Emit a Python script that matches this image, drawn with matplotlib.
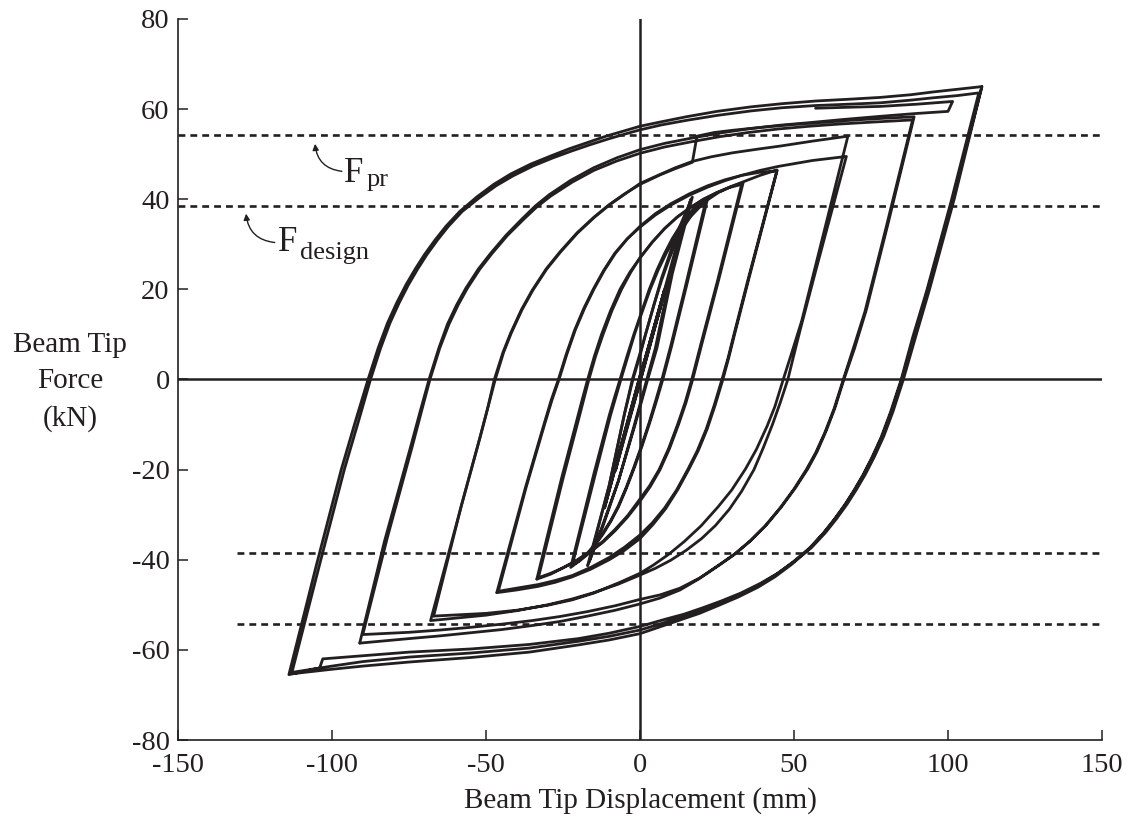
import matplotlib
matplotlib.use("Agg")
import matplotlib.pyplot as plt

plt.rcParams['font.family'] = ['Liberation Serif', 'DejaVu Serif']
plt.rcParams['axes.unicode_minus'] = False

INK = '#231f20'

# ---------------- data ----------------
x_ticks = [-150, -100, -50, 0, 50, 100, 150]
y_ticks = [-80, -60, -40, -20, 0, 20, 40, 60, 80]
f_pr = 54.2
f_design = 38.4

# level 1 (+/-8 mm)
disp_L1 = [0, 4, 8, 4, 0, -4, -8, -4, 0, 4, 8, 4, 0, -4, -8]
force_L1 = [0, 10, 20, 10.3, 0.5, -9.6, -20.2, -10.3, -0.5, 9.7, 20, 10.3, 0.5, -9.7, -20.2]

# level 2 (+/-11.5 mm)
disp_L2 = [-8, 0, 6, 11.5, 6, 0, -6, -11.5, -6, 0, 6, 11.5, 6, 0, -6, -11.5]
force_L2 = [-20.2, -0.5, 14.5, 28, 14.6, 0.8, -14.2, -28.3, -14.6, -0.6, 14.4, 27.8, 14.5, 0.8, -14.3, -28.5]

# level 3 (+/-16.5 mm)
disp_L3 = [-11.5, -5, 0, 6, 12, 16.5,
           10, 5, 2.2, -2, -7, -12, -16.5,
           -10, -5, -2.5, 2, 7, 12, 17,
           10.5, 5.5, 2.5, -1.8, -7, -12.5, -17]
force_L3 = [-28.5, -12, 0.5, 15, 30, 40,
            23.5, 7, 0, -10.5, -22.5, -32.5, -40.5,
            -23.5, -7.5, 0, 10.5, 22.5, 32.5, 40.5,
            23.5, 7, 0, -10.5, -22.5, -33, -41.3]

# level 4 (+/-22 mm)
disp_L4 = [-17, -10, -5, -2.3, 0, 2, 4.5, 7, 9.5, 12, 14.5, 17, 19.3, 21.5,
           14.5, 10, 7.1, 5, 3, 0.5, -2, -4.5, -7, -9.5, -12, -14.5, -17, -19.8, -22.5,
           -15, -10, -8.2, -6.5, -4.3, -2, 0.5, 3, 5.5, 8, 10.5, 13, 15.3, 17.5, 19.8, 22,
           15, 10.3, 7.4, 5.3, 3.2, 0.7, -1.8, -4.4, -7, -9.5, -12, -14.5, -17, -19.5, -22]
force_L4 = [-41.3, -23.5, -7.5, 0, 5.3, 10.5, 16.5, 22, 26.8, 31, 34.2, 36.8, 38.6, 40,
            20, 7.5, 0, -4.9, -9.5, -14.7, -19.5, -24, -28, -31.3, -34, -36.4, -38.5, -40.3, -41.7,
            -21, -8, -3.8, 0, 5, 10, 15, 20, 24.3, 28, 31.3, 34, 36.2, 38, 39.4, 40.3,
            20.5, 7.5, 0, -4.9, -9.5, -14.7, -19.5, -24.1, -28.3, -31.5, -34.3, -36.7, -38.8, -40.2, -41.2]

# level 5 (+/-33 mm)
disp_L5 = [-22, -14.5, -9.6, -6.2, -4, -1.8, 0.7, 3.3, 5.9, 8.5, 11.2, 14, 16.5, 19, 22, 25.5, 29.5, 33.5,
           25.5, 20.5, 18.8, 17.1, 14.9, 12.5, 9.6, 6.5, 3.3, 0, -4, -8, -12, -16, -20.5, -25, -29, -33,
           -25, -20, -18.3, -16.6, -14.4, -12, -9.1, -6, -3, 0, 4, 8, 12, 16, 20.5, 25, 29, 33,
           25.2, 20.2, 18.5, 16.8, 14.6, 12.2, 9.3, 6.2, 3.1, 0, -4, -8, -12, -16, -20.5, -25, -29, -33.5]
force_L5 = [-41.2, -21, -8, 0, 5, 10, 15, 20, 24.3, 28, 31.2, 34, 36.2, 38, 39.9, 41.5, 42.8, 43.7,
            22, 9, 4.5, 0, -5.2, -10, -15.3, -20, -23.8, -27, -30.5, -33.5, -36.1, -38.2, -40.2, -41.8, -43, -44,
            -22, -9, -4.5, 0, 5.2, 10, 15.3, 20, 23.8, 27, 30.5, 33.5, 36, 38, 40, 41.5, 42.6, 43.3,
            22, 9, 4.5, 0, -5.2, -10, -15.3, -20, -23.6, -26.5, -30.2, -33.2, -35.9, -38, -40.1, -41.8, -43.2, -44.3]

# level 6 (+/-45 mm)
disp_L6 = [-33.5, -25.5, -20.5, -18.7, -17, -14.8, -12.5, -9.6, -6.5, -3.3, 0, 4, 8, 12, 16, 20.5, 25, 29.5, 34, 39, 44.5,
           35, 30.5, 28.6, 26.6, 24.1, 21.5, 18.6, 15.5, 11.9, 8, 4, 0, -5, -10, -16, -22, -27.5, -33, -40, -46,
           -37, -31, -28.6, -26.3, -23.7, -21, -18, -15, -11.6, -8, -4, 0, 5, 10, 16, 22, 27.5, 33, 39, 44.5,
           35.2, 30.7, 28.8, 26.9, 24.4, 21.8, 18.9, 15.8, 12.2, 8.3, 4.2, 0, -5, -10, -16, -22, -27.5, -33, -40, -46.5]
force_L6 = [-44.3, -22, -9, -4.3, 0, 5.2, 10, 15.2, 20, 23.8, 27, 30.5, 33.5, 36, 38, 39.9, 41.5, 42.8, 44, 45.3, 46.5,
            22, 10, 4.8, 0, -5.7, -11, -15.8, -20, -24.5, -28.5, -31.8, -34.5, -37.2, -39.5, -41.7, -43.5, -44.6, -45.5, -46.3, -47,
            -24, -10, -4.6, 0, 5.7, 11, 15.8, 20, 24.2, 28, 31.3, 34, 36.8, 39, 41.2, 43, 44.3, 45.3, 46, 46.3,
            22, 10, 4.8, 0, -5.7, -11, -15.8, -20, -24.5, -28.7, -32.2, -35.3, -37.9, -40, -42.1, -43.8, -45, -45.9, -46.7, -47.3]

# level 7 (+/-67 mm)
disp_L7 = [-46.5, -37.2, -31.2, -28.8, -26.5, -24, -21.2, -18.3, -15.2, -11.8, -8.2, -4.2, 0, 5, 10, 16, 22, 27.5, 33, 39, 45, 56, 67,
           57, 52, 49.8, 48, 45.5, 43, 40, 37, 33, 29, 24.5, 20, 15, 10, 5, 0, -7, -15, -22, -30, -40, -50, -68,
           -58, -52, -49.5, -47, -44.3, -41.8, -38.3, -34.8, -30.3, -25.8, -20.3, -14.8, -9.8, -4.8, 0, 6.5, 11.5, 17, 23, 30, 38, 45.5, 56, 67.5,
           58, 52.5, 49.3, 46.5, 43.8, 41.3, 37.8, 34.3, 29.8, 25.3, 19.8, 14.3, 9.3, 4.3, 0, -6.5, -15, -22, -30, -40, -50, -67]
force_L7 = [-47.3, -24, -10, -4.5, 0, 5.5, 11, 15.7, 20, 24.2, 28, 31.2, 33.8, 36.5, 38.7, 40.9, 42.7, 44.1, 45.3, 46.4, 47.3, 48.6, 49.5,
            24, 11, 5, 0, -5.2, -10, -15.2, -20, -24.8, -28.8, -32.4, -35.3, -37.9, -40.1, -41.9, -43.4, -45.4, -47.3, -48.7, -50, -51.3, -52.3, -53.5,
            -28, -13, -6.5, 0, 6, 10.3, 15.5, 19.8, 24.5, 28.3, 32.5, 36, 38.8, 41.2, 43.5, 45.5, 47, 48.4, 49.4, 50.3, 51.1, 51.8, 52.9, 54,
            28, 13, 6, 0, -6, -10.3, -15.5, -19.8, -24.5, -28.3, -32.5, -36, -38.8, -41.2, -43, -45, -47.4, -48.9, -50.1, -51.2, -51.9, -52.5]

# level 8 (+/-89 mm); first loading shows a small step near 17 mm
disp_L8 = [-67, -58, -52, -49.5, -47.3, -44.5, -42, -38.5, -35, -30.5, -26, -20.5, -15, -10, -5, 0, 6.5, 11.5, 17,
           18.5, 24, 30, 40, 50, 60, 70, 80, 89,
           80.5, 73.5, 69.7, 66.2, 63.3, 60.5, 57.5, 54.5, 50.5, 46, 41, 36, 31, 26, 19.5, 13, 6.5, 0, -8, -17, -26, -35, -45, -55, -65, -75, -90,
           -82, -74, -71, -68.2, -65, -62, -59, -56, -52, -48, -43, -38, -33.5, -29, -22, -15, -7.5, 0, 8, 17, 26, 35, 45, 55, 65, 75, 88.5,
           80, 73, 69.3, 66, 63, 60, 57, 54, 50, 45.5, 40.5, 35.5, 30.5, 25.5, 19, 13, 6.5, 0, -8, -17, -26, -35, -45, -55, -65, -75, -91]
force_L8 = [-52.5, -28, -13, -6.5, 0, 6, 10.3, 15.5, 19.8, 24.5, 28.3, 32.5, 36, 38.8, 41.2, 43.3, 45.4, 46.8, 48.2,
            54, 54.8, 55.3, 56, 56.6, 57.1, 57.6, 58, 58.3,
            34.5, 15.5, 7, 0, -6.3, -11.3, -16, -19.8, -24, -28.2, -32.3, -35.7, -38.6, -41, -44, -46.3, -47.8, -48.8, -50.2, -51.5, -52.6, -53.5, -54.3, -55, -55.6, -56.1, -56.6,
            -35, -15, -7.2, 0, 7, 12.3, 16.6, 20.3, 24.5, 28, 32, 35.4, 38.3, 40.7, 43.8, 46.4, 48.5, 50.2, 51.6, 52.8, 53.9, 54.8, 55.6, 56.2, 56.7, 57.1, 57.6,
            34, 15, 7, 0, -6.5, -11.8, -16.3, -20, -24.3, -28.5, -32.6, -36, -38.9, -41.3, -44.3, -46.7, -48.5, -49.8, -51.2, -52.5, -53.7, -54.6, -55.5, -56.2, -56.9, -57.5, -58.5]

# level 9, first loading (+/-111 mm), with the step near 100 mm
disp_L9a = [-91, -83, -74.5, -71.5, -68.5, -65.3, -62.5, -59.5, -56.5, -52.5, -48.5, -43.5, -38.5, -34, -29.5, -22.5,
            -15, -7.5, 0, 8, 17, 26, 35, 45, 55, 66, 78, 89, 100,
            101.5, 90, 78, 67, 57]
force_L9a = [-58.5, -36, -15, -7.4, 0, 7, 12.3, 16.6, 20.3, 24.5, 28, 32, 35.5, 38.5, 41, 44.2,
             47, 49.2, 51, 52.4, 53.6, 54.7, 55.6, 56.4, 57, 57.7, 58.4, 59, 59.5,
             61.7, 61.1, 60.6, 60.4, 60.2]

# level 9, remaining cycles
disp_L9b = [111, 102, 94, 89.5, 85.5, 82.2, 79.2, 76.2, 73.2, 70.2, 67.2, 63.7, 60.2, 55.7, 50.2, 44.7, 39.2, 32.7,
            26.2, 20.2, 14.2, 8.2, 0, -10, -20, -36, -55, -75, -90, -103, -104, -114,
            -105, -97, -92.5, -88.3, -85, -82, -79, -76, -73, -70, -66.5, -63, -58.5, -53, -47.5, -42, -35.5, -29,
            -23, -17, -11, -5, 0, 7, 15, 25, 36, 46, 57, 68, 78, 88, 95, 103, 111,
            101.5, 93.5, 89, 85, 81.7, 78.7, 75.7, 72.7, 69.7, 66.7, 63.2, 59.7, 55.2, 49.7, 44.2, 38.7, 32.2, 25.7,
            19.7, 13.7, 7.7, 0, -10, -20, -36, -55, -75, -90, -100, -113,
            -104, -96, -91.5, -87.5, -84.2, -81.2, -78.2, -75.2, -72.2, -69.2, -65.7, -62.2, -57.7, -52.2, -46.7, -41.2,
            -34.7, -28.2, -22.2, -16.2, -10.2, -4.2, 0, 7, 15, 25, 36, 46, 57, 68, 78, 88, 95, 103, 110,
            101, 93, 88.5, 84.8, 81.3, 78.3, 75.3, 72.3, 69.3, 66.3, 62.8, 59.3, 54.8, 49.3, 43.8, 38.3, 31.8, 25.3,
            19.3, 13.3, 7.3, 0, -10, -20, -36, -55, -75, -90, -100, -113]
force_L9b = [65, 40, 20, 9.5, 0, -7, -12.5, -17, -21, -24.5, -27.7, -31, -34, -37.3, -40.3, -43, -45.2, -47.4,
             -49.2, -50.7, -52.1, -53.2, -54.8, -56.3, -57.5, -58.8, -59.8, -60.5, -61.3, -62, -64, -65.5,
             -41, -20, -9.5, 0, 7, 12.5, 17, 21, 24.5, 27.7, 31, 34, 37.3, 40.5, 43.3, 45.6, 47.8, 49.6,
             51.2, 52.6, 54, 55.2, 56.2, 57.2, 58.3, 59.5, 60.5, 61.2, 61.8, 62.2, 62.6, 63.2, 63.8, 64.4, 65,
             40, 20, 9.5, 0, -7, -12.5, -17, -21, -24.5, -27.7, -31, -34, -37.3, -40.5, -43.3, -45.6, -47.8, -49.6,
             -51.2, -52.6, -54, -55.6, -57, -58.1, -59.6, -60.7, -61.6, -62.6, -63.6, -65,
             -41, -20, -9.5, 0, 7, 12.5, 17, 21, 24.5, 27.7, 31, 34, 37.3, 40.3, 43, 45.2,
             47.4, 49.2, 50.7, 52.1, 53.4, 54.6, 55.4, 56.5, 57.5, 58.6, 59.6, 60.3, 60.8, 61.1, 61.4, 62, 62.5, 63, 63.6,
             39.5, 19.5, 9.3, 0, -7.3, -12.8, -17.3, -21.3, -24.8, -28, -31.3, -34.3, -37.7, -41, -43.8, -46.1, -48.3, -50.2,
             -51.9, -53.3, -54.7, -56.4, -57.8, -58.9, -60.5, -61.7, -62.7, -63.6, -64.3, -65.3]

levels = [(disp_L1, force_L1), (disp_L2, force_L2), (disp_L3, force_L3), (disp_L4, force_L4),
          (disp_L5, force_L5), (disp_L6, force_L6), (disp_L7, force_L7), (disp_L8, force_L8),
          (disp_L9a, force_L9a), (disp_L9b, force_L9b)]

# ---------------- figure ----------------
fig = plt.figure(figsize=(11.31, 8.36), dpi=100)
ax = fig.add_axes([178 / 1131, 1 - 740 / 836, (1102 - 178) / 1131, (740 - 19) / 836])
ax.set_xlim(-150, 150)
ax.set_ylim(-80, 80)

for d, f in levels:
    ax.plot(d, f, color=INK, lw=2.0, solid_joinstyle='round', solid_capstyle='round', zorder=3)

# zero lines
ax.axhline(0, color=INK, lw=1.8, zorder=2)
ax.axvline(0, color=INK, lw=1.8, zorder=2)

# reference force levels
dash = (0, (2.6, 1.9))
ax.plot([-150, 150], [f_pr, f_pr], color=INK, lw=1.9, linestyle=dash, zorder=1)
ax.plot([-150, 150], [f_design, f_design], color=INK, lw=1.9, linestyle=dash, zorder=1)
ax.plot([-131, 150], [-f_pr, -f_pr], color=INK, lw=1.9, linestyle=dash, zorder=1)
ax.plot([-131, 150], [-f_design, -f_design], color=INK, lw=1.9, linestyle=dash, zorder=1)

# annotations
ax.text(-96.0, 43.9, 'F', fontsize=25, color=INK, ha='left', va='baseline')
ax.text(-88.9, 43.0, 'pr', fontsize=19, color=INK, ha='left', va='baseline')
ax.text(-117.4, 28.5, 'F', fontsize=25, color=INK, ha='left', va='baseline')
ax.text(-110.4, 26.8, 'design', fontsize=19, color=INK, ha='left', va='baseline')
arrow_kw = dict(arrowstyle='-|>', color=INK, lw=1.0, mutation_scale=9,
                connectionstyle='arc3,rad=-0.4', shrinkA=0, shrinkB=0)
ax.annotate('', xy=(-105.5, 52.3), xytext=(-96.8, 46.2), arrowprops=arrow_kw)
ax.annotate('', xy=(-127.9, 36.8), xytext=(-118.6, 30.4), arrowprops=arrow_kw)

# axes styling
for s in ['top', 'right']:
    ax.spines[s].set_visible(False)
for s in ['left', 'bottom']:
    ax.spines[s].set_linewidth(1.2)
    ax.spines[s].set_color(INK)
ax.set_xticks(x_ticks)
ax.set_yticks(y_ticks)
ax.set_xticklabels([str(v) for v in x_ticks])
ax.set_yticklabels([str(v) for v in y_ticks])
ax.tick_params(direction='in', length=7, width=1.1, colors=INK, labelsize=20.5, pad=6)
ax.tick_params(axis='x', pad=9)
for lab in ax.get_xticklabels() + ax.get_yticklabels():
    lab.set_color(INK)

ax.set_xlabel('Beam Tip Displacement (mm)', fontsize=21, color=INK, labelpad=7)
fig.text(70 / 1131, 1 - 382 / 836, 'Beam Tip\nForce\n(kN)', fontsize=21, color=INK,
         ha='center', va='center', linespacing=1.5)

fig.savefig('out.png', dpi=100)
